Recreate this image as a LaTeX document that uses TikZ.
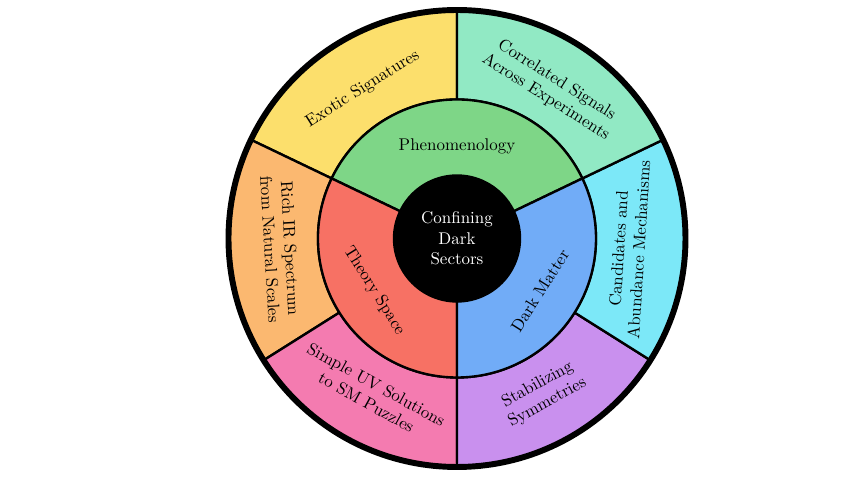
\documentclass[tikz,border=0pt]{standalone}
\usepackage{xcolor}
\usepackage{tikz}
\usetikzlibrary{positioning}

\definecolor{phenocol}{RGB}{126,214,135}
\definecolor{theorycol}{RGB}{247,113,100}
\definecolor{dmcol}{RGB}{113,172,247}
\definecolor{exoticcol}{RGB}{252,223,108}
\definecolor{corrcol}{RGB}{145,233,196}
\definecolor{candcol}{RGB}{124,232,248}
\definecolor{richcol}{RGB}{251,184,112}
\definecolor{uvcol}{RGB}{244,123,176}
\definecolor{stabcol}{RGB}{201,144,238}

\begin{document}
\begin{tikzpicture}[
				x=0.59pt, y=0.59pt,
				sector/.style={draw=black, line width=1.4pt},
				rim/.style={draw=black, line width=3.5pt},
				label/.style={align=center, font=\normalsize},
				corelabel/.style={align=center, text=white, font=\normalsize}
				]
				
				\useasboundingbox (-457,-254.5) rectangle (401,238.5);
				
				% Outer ring: six sectors
				\draw[sector, fill=exoticcol] (90:139) -- (90:228.5) arc[start angle=90, end angle=154.4, radius=228.5]
				-- (154.4:139) arc[start angle=154.4, end angle=90, radius=139] -- cycle;
				\draw[sector, fill=richcol] (154.4:139) -- (154.4:228.5) arc[start angle=154.4, end angle=212.2, radius=228.5]
				-- (212.2:139) arc[start angle=212.2, end angle=154.4, radius=139] -- cycle;
				\draw[sector, fill=uvcol] (212.2:139) -- (212.2:228.5) arc[start angle=212.2, end angle=270, radius=228.5]
				-- (270:139) arc[start angle=270, end angle=212.2, radius=139] -- cycle;
				\draw[sector, fill=stabcol] (270:139) -- (270:228.5) arc[start angle=270, end angle=327.8, radius=228.5]
				-- (327.8:139) arc[start angle=327.8, end angle=270, radius=139] -- cycle;
				\draw[sector, fill=candcol] (327.8:139) -- (327.8:228.5) arc[start angle=327.8, end angle=385.6, radius=228.5]
				-- (385.6:139) arc[start angle=385.6, end angle=327.8, radius=139] -- cycle;
				\draw[sector, fill=corrcol] (25.6:139) -- (25.6:228.5) arc[start angle=25.6, end angle=90, radius=228.5]
				-- (90:139) arc[start angle=90, end angle=25.6, radius=139] -- cycle;
				
				% Inner ring: three sectors
				\draw[sector, fill=phenocol] (25.6:63) -- (25.6:139) arc[start angle=25.6, end angle=154.4, radius=139]
				-- (154.4:63) arc[start angle=154.4, end angle=25.6, radius=63] -- cycle;
				\draw[sector, fill=theorycol] (154.4:63) -- (154.4:139) arc[start angle=154.4, end angle=270, radius=139]
				-- (270:63) arc[start angle=270, end angle=154.4, radius=63] -- cycle;
				\draw[sector, fill=dmcol] (270:63) -- (270:139) arc[start angle=270, end angle=385.6, radius=139]
				-- (385.6:63) arc[start angle=385.6, end angle=270, radius=63] -- cycle;
				
				% Rim and core
				\draw[rim] (0,0) circle[radius=228.5];
				\fill[black] (0,0) circle[radius=63];
				
				% Core label
				\node[corelabel] (core) at (0,0) {Confining\\Dark\\Sectors};
				
				% Inner ring labels
				\node[label] (pheno) at (90:92) {Phenomenology};
				\node[label, rotate=-57.8] (theory) at (212.2:98) {Theory Space};
				\node[label, rotate=57.8] (darkmatter) at (327.8:98) {Dark Matter};
				
				% Outer ring labels
				\node[label, rotate=32.2] (exotic) at (122.2:177) {Exotic Signatures};
				\node[label, rotate=-32.2] (correlated) at (57.8:177) {Correlated Signals\\Across Experiments};
				\node[label, rotate=86.4] (candidates) at (-3.6:172) {Candidates and\\Abundance Mechanisms};
				\node[label, rotate=-86.7] (richir) at (183.3:177) {Rich IR Spectrum\\from Natural Scales};
				\node[label, rotate=-28.9] (simpleuv) at (241.1:177) {Simple UV Solutions\\to SM Puzzles};
				\node[label, rotate=28.9] (stabilizing) at (298.9:177) {Stabilizing\\Symmetries};
				
			\end{tikzpicture}
\end{document}
